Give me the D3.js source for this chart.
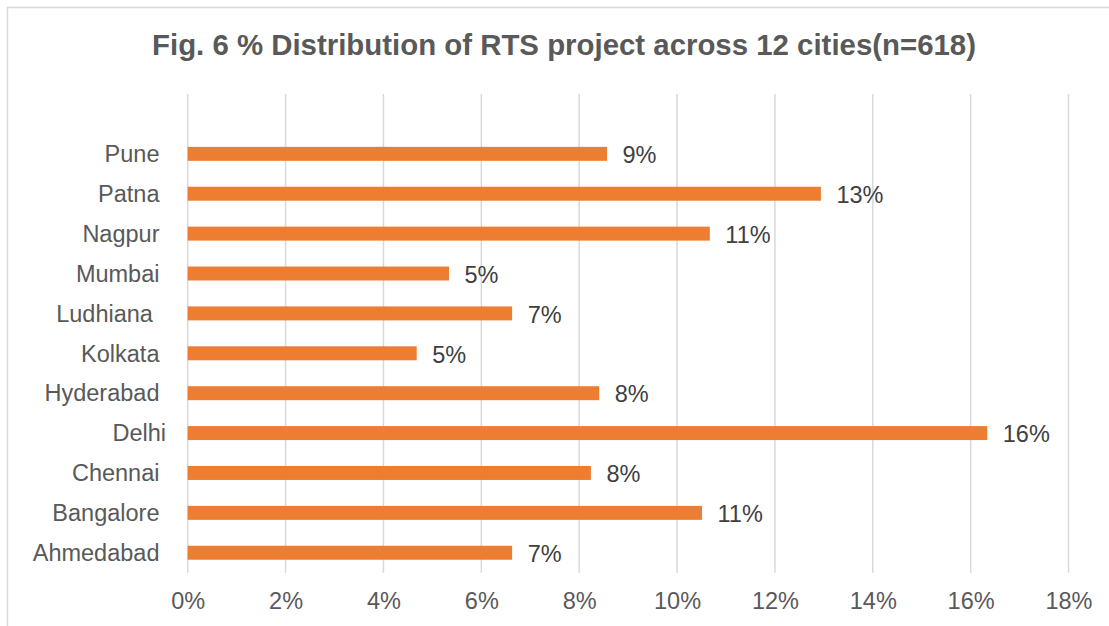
<html>
 <head>
 <title>Fig. 6 | D3</title>
 <script src="https://d3js.org/d3.v7.min.js" charset="utf-8"></script>
<style>
body {
 margin: 0;
 background: white;
 font-family: "Liberation Sans", Arial, sans-serif;
}
.grid line {
 stroke: #d9d9d9;
 stroke-width: 1.5;
}
.cat {
 white-space: pre;
}
</style>
 </head>
 <body>
 <script>
   // data, top category is empty in the original
    var cities = ["Ahmedabad ", "Bangalore ", "Chennai ", "Delhi", "Hyderabad ", "Kolkata ",
                  "Ludhiana  ", "Mumbai ", "Nagpur ", "Patna ", "Pune ", ""];
    var shares = [0.0663, 0.1051, 0.0824, 0.1634, 0.0841, 0.0468,
                  0.0663, 0.0534, 0.1067, 0.1294, 0.0857, null];
    var labels = ["7%", "11%", "8%", "16%", "8%", "5%", "7%", "5%", "11%", "13%", "9%", ""];
    var ticks = [0, 0.02, 0.04, 0.06, 0.08, 0.10, 0.12, 0.14, 0.16, 0.18];
    var title = "Fig. 6 % Distribution of RTS project across 12 cities(n=618)";

    var width = 1109;
    var height = 626;
    var barColor = "#ed7d31";
    var fs = 23.5;

    var rows = cities.map(function(c, i) {
      return { city: c, share: shares[i], label: labels[i] };
    });

    var x = d3.scaleLinear().domain([0, 0.18]).range([187.7, 1068.5]);
    var y = d3.scaleBand()
      .domain(cities)
      .range([572.7, 94])
      .paddingInner(0.65)
      .paddingOuter(0.325);

    var svg = d3.select("body")
      .append("svg")
      .attr("width", width)
      .attr("height", height);

    // chart border (right and bottom run off the picture)
    svg.append("rect")
      .attr("x", 7.5).attr("y", 7.5)
      .attr("width", width + 20).attr("height", height + 20)
      .attr("fill", "white")
      .attr("stroke", "#d9d9d9")
      .attr("stroke-width", 1.5);

    svg.append("text")
      .attr("x", 564).attr("y", 55)
      .attr("text-anchor", "middle")
      .attr("font-size", 29.4)
      .attr("font-weight", "bold")
      .attr("fill", "#595959")
      .text(title);

    // vertical gridlines
    svg.append("g")
      .attr("class", "grid")
      .selectAll("line")
      .data(ticks)
      .enter()
      .append("line")
      .attr("x1", function(d) { return x(d); })
      .attr("x2", function(d) { return x(d); })
      .attr("y1", 94)
      .attr("y2", 572.7);

    // x axis labels
    var xAxis = d3.axisBottom(x)
      .tickValues(ticks)
      .tickFormat(d3.format(".0%"))
      .tickSize(0)
      .tickPadding(0);
    var ax = svg.append("g")
      .attr("transform", "translate(0,600.5)")
      .call(xAxis);
    ax.select(".domain").remove();
    ax.selectAll("text")
      .attr("dy", "0.35em")
      .attr("font-family", "Liberation Sans, Arial, sans-serif")
      .attr("font-size", fs)
      .attr("fill", "#595959");

    // category labels
    svg.append("g")
      .selectAll("text")
      .data(rows)
      .enter()
      .append("text")
      .attr("class", "cat")
      .attr("x", 166)
      .attr("y", function(d) { return y(d.city) + y.bandwidth() / 2; })
      .attr("dy", "0.35em")
      .attr("text-anchor", "end")
      .attr("font-size", fs)
      .attr("fill", "#595959")
      .text(function(d) { return d.city; });

    var bars = rows.filter(function(d) { return d.share !== null; });

    svg.append("g")
      .selectAll("rect")
      .data(bars)
      .enter()
      .append("rect")
      .attr("x", x(0))
      .attr("y", function(d) { return y(d.city); })
      .attr("width", function(d) { return x(d.share) - x(0); })
      .attr("height", y.bandwidth())
      .attr("fill", barColor);

    // value labels
    svg.append("g")
      .selectAll("text")
      .data(bars)
      .enter()
      .append("text")
      .attr("x", function(d) { return x(d.share) + 15.5; })
      .attr("y", function(d) { return y(d.city) + y.bandwidth() / 2 + 1; })
      .attr("dy", "0.35em")
      .attr("font-size", fs)
      .attr("fill", "#404040")
      .text(function(d) { return d.label; });
 </script>
 </body>
</html>
